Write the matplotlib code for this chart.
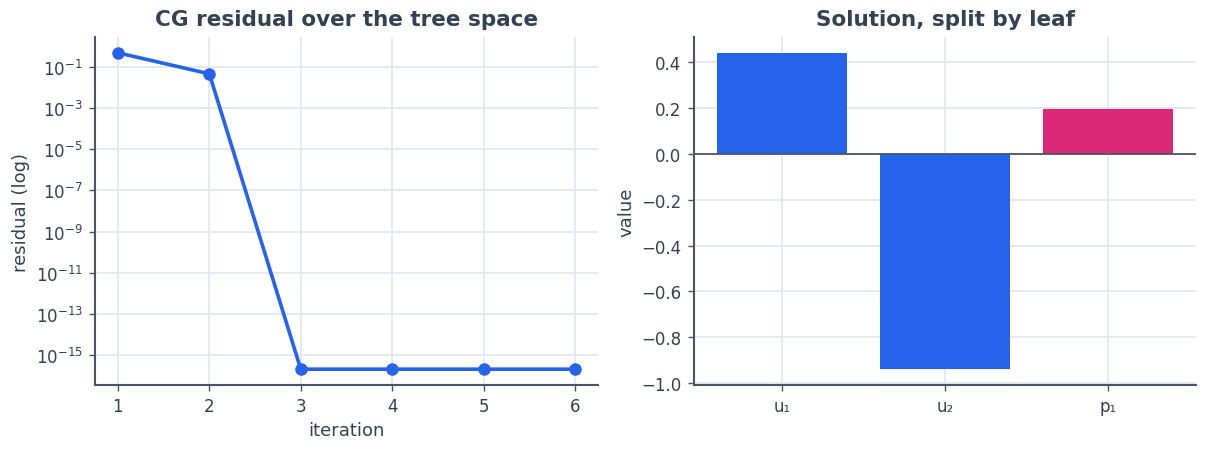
import matplotlib
matplotlib.use("Agg")
import matplotlib.pyplot as plt

iterations = [1, 2, 3, 4, 5, 6]
residuals = [0.48, 0.046, 2.1e-16, 2.1e-16, 2.1e-16, 2.1e-16]
residual_ticks = [1e-1, 1e-3, 1e-5, 1e-7, 1e-9, 1e-11, 1e-13, 1e-15]

leaves = ["u\u2081", "u\u2082", "p\u2081"]
values = [0.44, -0.939, 0.196]
bar_colors = ["#2563eb", "#2563eb", "#db2777"]
value_ticks = [0.4, 0.2, 0.0, -0.2, -0.4, -0.6, -0.8, -1.0]

TEXT = "#334155"
SPINE = "#4b5563"
GRID = "#e5e7ef"
BLUE = "#2563eb"

plt.rcParams["font.family"] = ["DejaVu Sans"]

fig = plt.figure(figsize=(12.08, 4.52), dpi=100)
ax1 = fig.add_axes([95/1208, 1-386/452, 503/1208, 348/452])
ax2 = fig.add_axes([694/1208, 1-386/452, 502/1208, 348/452])

for ax in (ax1, ax2):
    ax.set_axisbelow(True)
    ax.grid(True, color=GRID, linewidth=1.3)
    for s in ("top", "right"):
        ax.spines[s].set_visible(False)
    for s in ("left", "bottom"):
        ax.spines[s].set_color(SPINE)
        ax.spines[s].set_linewidth(1.5)
    ax.tick_params(colors=SPINE, labelcolor=TEXT, labelsize=12, width=1, length=4.5, pad=4.5)

ax1.plot(iterations, residuals, color=BLUE, linewidth=2.6, marker="o", markersize=8)
ax1.set_yscale("log")
ax1.set_yticks(residual_ticks)
ax1.minorticks_off()
ax1.set_xticks(iterations)
ax1.set_xlabel("iteration", fontsize=13, color=TEXT, labelpad=4)
ax1.set_ylabel("residual (log)", fontsize=13, color=TEXT, labelpad=4)
ax1.set_title("CG residual over the tree space", fontsize=15.5, fontweight="bold", color=TEXT, pad=9)

x = range(len(leaves))
ax2.bar(x, values, width=0.8, color=bar_colors)
ax2.axhline(0, color=SPINE, linewidth=1.3)
ax2.set_xticks(list(x))
ax2.set_xticklabels(leaves)
ax2.set_xlim(-0.54, 2.54)
ax2.set_yticks(value_ticks)
ax2.set_ylabel("value", fontsize=13, color=TEXT, labelpad=4)
ax2.set_title("Solution, split by leaf", fontsize=15.5, fontweight="bold", color=TEXT, pad=9)

fig.savefig("out.png", dpi=100)
